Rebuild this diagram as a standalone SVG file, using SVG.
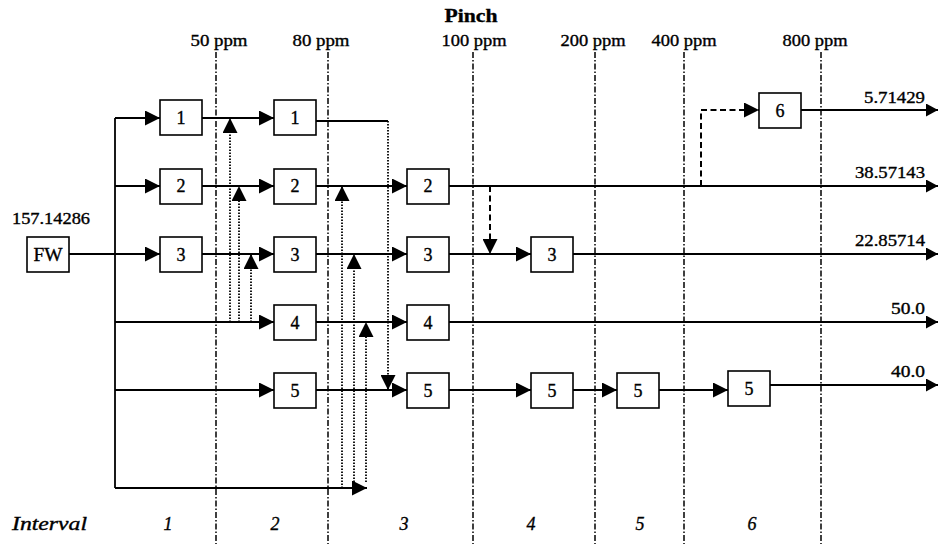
<svg xmlns="http://www.w3.org/2000/svg" width="938" height="544" viewBox="0 0 938 544" font-family="'Liberation Serif', 'Times New Roman', Tinos, Times, serif">
<style>
text{font-family:'Liberation Serif','Times New Roman',Tinos,Times,serif;fill:#000;stroke:#000;stroke-width:0.35}
.hd{font-size:16px;text-anchor:middle}
.num{font-size:18px;text-anchor:middle}
.val{font-size:16px;text-anchor:end}
.it{font-size:18px;font-style:italic;text-anchor:middle}
.box{fill:#fff;stroke:#000;stroke-width:1.6}
.ln{fill:none;stroke:#000;stroke-width:1.8}
.dot{fill:none;stroke:#000;stroke-width:1.8;stroke-dasharray:1.5 1.5}
.dash{fill:none;stroke:#000;stroke-width:2;stroke-dasharray:6 3.5}
.pinch{fill:none;stroke:#000;stroke-width:1.5;stroke-dasharray:6 2 1.5 2}
</style>
<defs>
<marker id="ah" markerUnits="userSpaceOnUse" markerWidth="15" markerHeight="15" refX="14" refY="7" orient="auto" viewBox="0 0 14 14">
<path d="M0,0 L14,7 L0,14 z" fill="#000"/>
</marker>
<marker id="ahs" markerUnits="userSpaceOnUse" markerWidth="12" markerHeight="13" refX="12" refY="6.5" orient="auto" viewBox="0 0 12 13">
<path d="M0,0 L12,6.5 L0,13 z" fill="#000"/>
</marker>
</defs>

<g id="pinch-lines">
<line class="pinch" x1="216" y1="52" x2="216" y2="544"/>
<line class="pinch" x1="328" y1="52" x2="328" y2="544"/>
<line class="pinch" x1="473" y1="52" x2="473" y2="544"/>
<line class="pinch" x1="595" y1="52" x2="595" y2="544"/>
<line class="pinch" x1="684" y1="52" x2="684" y2="544"/>
<line class="pinch" x1="821" y1="52" x2="821" y2="544"/>
</g>

<g id="headers">
<text x="471" y="22" style="font-size:19px;font-weight:bold;text-anchor:middle" textLength="53" lengthAdjust="spacingAndGlyphs">Pinch</text>
<text class="hd" x="219" y="46" textLength="57" lengthAdjust="spacingAndGlyphs">50 ppm</text>
<text class="hd" x="321" y="46" textLength="57" lengthAdjust="spacingAndGlyphs">80 ppm</text>
<text class="hd" x="474" y="46" textLength="65" lengthAdjust="spacingAndGlyphs">100 ppm</text>
<text class="hd" x="593" y="46" textLength="65" lengthAdjust="spacingAndGlyphs">200 ppm</text>
<text class="hd" x="684" y="46" textLength="65" lengthAdjust="spacingAndGlyphs">400 ppm</text>
<text class="hd" x="815" y="46" textLength="65" lengthAdjust="spacingAndGlyphs">800 ppm</text>
</g>

<g id="connectors">
<line class="ln" x1="69" y1="254" x2="160" y2="254" marker-end="url(#ah)"/>
<line class="ln" x1="115" y1="118" x2="115" y2="488"/>
<line class="ln" x1="115" y1="118" x2="160" y2="118" marker-end="url(#ah)"/>
<line class="ln" x1="115" y1="186" x2="160" y2="186" marker-end="url(#ah)"/>
<line class="ln" x1="115" y1="322" x2="274" y2="322" marker-end="url(#ah)"/>
<line class="ln" x1="115" y1="390" x2="274" y2="390" marker-end="url(#ah)"/>
<line class="ln" x1="115" y1="488" x2="367" y2="488" marker-end="url(#ah)"/>
<line class="ln" x1="202" y1="118" x2="274" y2="118" marker-end="url(#ah)"/>
<polyline class="ln" points="316,121 388,121"/>
<line class="dot" x1="388" y1="121" x2="388" y2="390" marker-end="url(#ah)"/>
<line class="ln" x1="202" y1="186" x2="274" y2="186" marker-end="url(#ah)"/>
<line class="ln" x1="316" y1="186" x2="407" y2="186" marker-end="url(#ah)"/>
<line class="ln" x1="449" y1="186" x2="938" y2="186" marker-end="url(#ahs)"/>
<line class="dash" x1="490" y1="186" x2="490" y2="254" marker-end="url(#ah)"/>
<polyline class="dash" points="701,186 701,110 759,110" marker-end="url(#ah)"/>
<line class="ln" x1="801" y1="110" x2="938" y2="110" marker-end="url(#ahs)"/>
<line class="ln" x1="202" y1="254" x2="274" y2="254" marker-end="url(#ah)"/>
<line class="ln" x1="316" y1="254" x2="407" y2="254" marker-end="url(#ah)"/>
<line class="ln" x1="449" y1="254" x2="531" y2="254" marker-end="url(#ah)"/>
<line class="ln" x1="573" y1="254" x2="938" y2="254" marker-end="url(#ahs)"/>
<line class="ln" x1="316" y1="322" x2="407" y2="322" marker-end="url(#ah)"/>
<line class="ln" x1="449" y1="322" x2="938" y2="322" marker-end="url(#ahs)"/>
<line class="ln" x1="316" y1="390" x2="407" y2="390" marker-end="url(#ah)"/>
<line class="ln" x1="449" y1="390" x2="531" y2="390" marker-end="url(#ah)"/>
<line class="ln" x1="573" y1="390" x2="617" y2="390" marker-end="url(#ah)"/>
<line class="ln" x1="659" y1="390" x2="728" y2="390" marker-end="url(#ah)"/>
<line class="ln" x1="770" y1="385" x2="938" y2="385" marker-end="url(#ahs)"/>
<line class="dot" x1="230" y1="322" x2="230" y2="118" marker-end="url(#ah)"/>
<line class="dot" x1="239" y1="322" x2="239" y2="186" marker-end="url(#ah)"/>
<line class="dot" x1="251" y1="322" x2="251" y2="254" marker-end="url(#ah)"/>
<line class="dot" x1="342" y1="488" x2="342" y2="186" marker-end="url(#ah)"/>
<line class="dot" x1="354" y1="488" x2="354" y2="254" marker-end="url(#ah)"/>
<line class="dot" x1="366" y1="482" x2="366" y2="322" marker-end="url(#ah)"/>
</g>

<g id="fw"><rect class="box" x="27" y="237" width="42" height="35"/><text class="num" x="48" y="261" textLength="29" lengthAdjust="spacingAndGlyphs">FW</text></g>
<text id="fw-flow" x="51" y="224" style="font-size:16px;text-anchor:middle" textLength="78" lengthAdjust="spacingAndGlyphs">157.14286</text>

<g id="c1r1"><rect class="box" x="160" y="100" width="42" height="35"/><text class="num" x="181" y="124">1</text></g>
<g id="c1r2"><rect class="box" x="160" y="169" width="42" height="35"/><text class="num" x="181" y="192">2</text></g>
<g id="c1r3"><rect class="box" x="160" y="237" width="42" height="35"/><text class="num" x="181" y="261">3</text></g>

<g id="c2r1"><rect class="box" x="274" y="100" width="42" height="35"/><text class="num" x="295" y="124">1</text></g>
<g id="c2r2"><rect class="box" x="274" y="169" width="42" height="35"/><text class="num" x="295" y="192">2</text></g>
<g id="c2r3"><rect class="box" x="274" y="237" width="42" height="35"/><text class="num" x="295" y="261">3</text></g>
<g id="c2r4"><rect class="box" x="274" y="305" width="42" height="35"/><text class="num" x="295" y="329">4</text></g>
<g id="c2r5"><rect class="box" x="274" y="373" width="42" height="35"/><text class="num" x="295" y="397">5</text></g>

<g id="c3r2"><rect class="box" x="407" y="169" width="42" height="35"/><text class="num" x="428" y="192">2</text></g>
<g id="c3r3"><rect class="box" x="407" y="237" width="42" height="35"/><text class="num" x="428" y="261">3</text></g>
<g id="c3r4"><rect class="box" x="407" y="305" width="42" height="35"/><text class="num" x="428" y="329">4</text></g>
<g id="c3r5"><rect class="box" x="407" y="373" width="42" height="35"/><text class="num" x="428" y="397">5</text></g>

<g id="c4r3"><rect class="box" x="531" y="237" width="42" height="35"/><text class="num" x="552" y="261">3</text></g>
<g id="c4r5"><rect class="box" x="531" y="373" width="42" height="35"/><text class="num" x="552" y="397">5</text></g>
<g id="c5r5"><rect class="box" x="617" y="373" width="42" height="35"/><text class="num" x="638" y="397">5</text></g>
<g id="c6r5"><rect class="box" x="728" y="371" width="42" height="35"/><text class="num" x="749" y="395">5</text></g>
<g id="c6r6"><rect class="box" x="759" y="93" width="42" height="35"/><text class="num" x="780" y="117">6</text></g>

<g id="outlet-values">
<text class="val" x="925" y="103" textLength="61" lengthAdjust="spacingAndGlyphs">5.71429</text>
<text class="val" x="925" y="178" textLength="70" lengthAdjust="spacingAndGlyphs">38.57143</text>
<text class="val" x="925" y="246" textLength="70" lengthAdjust="spacingAndGlyphs">22.85714</text>
<text class="val" x="925" y="314" textLength="34" lengthAdjust="spacingAndGlyphs">50.0</text>
<text class="val" x="925" y="377" textLength="34" lengthAdjust="spacingAndGlyphs">40.0</text>
</g>

<g id="intervals">
<text x="12" y="530" style="font-size:18px;font-style:italic" textLength="75" lengthAdjust="spacingAndGlyphs">Interval</text>
<text class="it" x="168" y="530">1</text>
<text class="it" x="275" y="530">2</text>
<text class="it" x="404" y="530">3</text>
<text class="it" x="531" y="530">4</text>
<text class="it" x="640" y="530">5</text>
<text class="it" x="752" y="530">6</text>
</g>
</svg>
